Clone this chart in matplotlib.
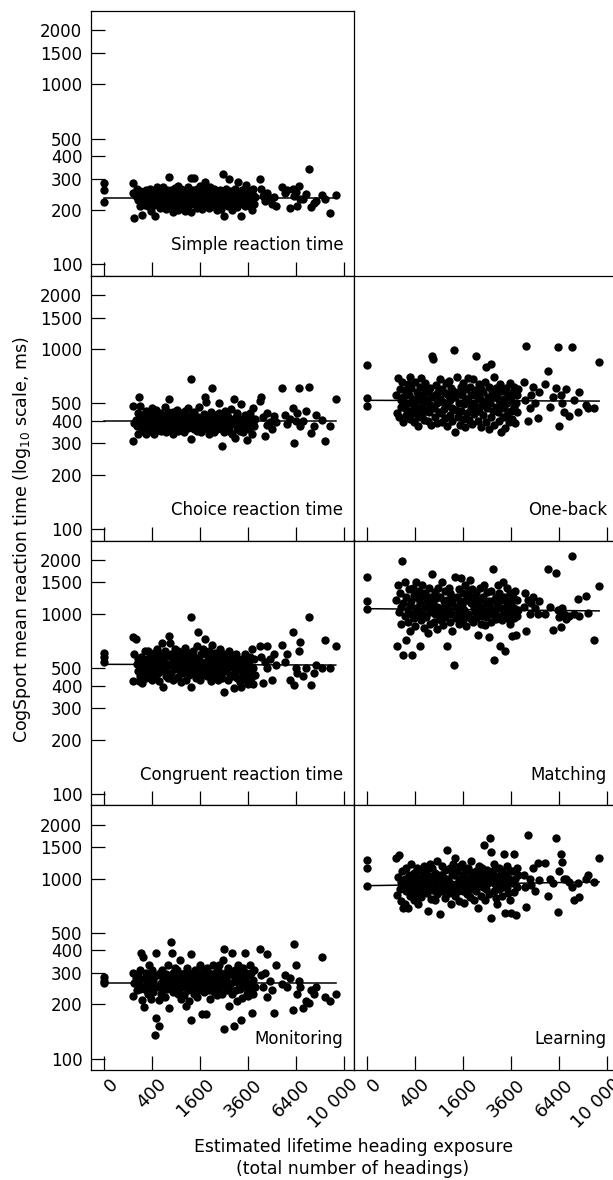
import numpy as np
import matplotlib
matplotlib.use("Agg")
import matplotlib.pyplot as plt
import matplotlib.transforms as mtransforms

# Estimated lifetime heading exposure (number of headings), shared by all panels
exposure = [
    0, 0, 0,
    144, 150, 160, 175, 185, 196, 200, 210, 220, 225,
    240, 250, 256, 265, 280, 290, 300, 310, 320, 330,
    335, 345, 360, 370, 385, 395, 405, 415, 425, 440,
    450, 465, 478, 490, 505, 520, 530, 545, 560, 575,
    585, 600, 615, 630, 645, 660, 675, 690, 705, 720,
    735, 750, 770, 785, 800, 820, 835, 850, 870, 890,
    905, 925, 940, 960, 980, 1000, 1020, 1040, 1060, 1080,
    1095, 1115, 1135, 1155, 1175, 1195, 1215, 1240, 1260, 1285,
    1305, 1330, 1350, 1375, 1400, 1420, 1445, 1465, 1490, 1510,
    1530, 1555, 1580, 1605, 1630, 1655, 1680, 1705, 1730, 1755,
    1775, 1800, 1830, 1855, 1880, 1910, 1935, 1960, 1990, 2015,
    2035, 2065, 2090, 2120, 2150, 2175, 2205, 2235, 2260, 2290,
    2315, 2345, 2375, 2405, 2435, 2465, 2495, 2525, 2555, 2590,
    2610, 2645, 2675, 2710, 2740, 2770, 2805, 2840, 2870, 2900,
    2930, 2965, 3000, 3030, 3065, 3100, 3135, 3170, 3205, 3240,
    3260, 3295, 3330, 3370, 3405, 3440, 3480, 3515, 3550, 3590,
    3610, 3650, 3690, 3730, 3765, 3805, 3845, 3885, 3920, 3960,
    4250, 4300, 4400, 4500, 4600, 4650, 4800, 4900, 5050, 5150,
    5500, 5700, 5800, 6000, 6200, 6300, 6400, 6500, 6600, 6700,
    6900, 7100, 7300, 7450, 7700, 7800, 8300, 8500, 8900, 9350,
]

# Mean reaction times (ms) per task, same order as exposure
simple_rt = [
    282, 258, 222,
    283, 250, 181, 240, 262, 228, 245, 236, 255, 210,
    226, 240, 188, 250, 232, 215, 244, 258, 224, 236,
    212, 248, 230, 262, 198, 236, 220, 252, 242, 214,
    186, 228, 256, 270, 238, 218, 246, 205, 232, 262,
    240, 212, 268, 224, 250, 204, 236, 258, 220, 244,
    306, 230, 214, 260, 248, 196, 238, 222, 266, 208,
    252, 228, 200, 274, 236, 216, 244, 262, 226, 210,
    238, 256, 198, 222, 248, 232, 270, 212, 246, 228,
    303, 196, 240, 258, 218, 303, 234, 250, 206, 264,
    226, 244, 212, 272, 236, 202, 254, 230, 218, 266,
    287, 240, 214, 256, 228, 248, 206, 270, 232, 220,
    250, 210, 238, 262, 224, 244, 200, 256, 230, 216,
    236, 258, 204, 246, 226, 316, 186, 240, 218, 262,
    228, 250, 210, 240, 297, 222, 256, 200, 234, 246,
    214, 244, 264, 226, 238, 208, 287, 250, 222, 232,
    186, 240, 258, 216, 230, 248, 210, 278, 236, 220,
    246, 226, 212, 256, 234, 200, 242, 262, 218, 238,
    300, 262, 240, 226, 250, 244, 232, 216, 236, 212,
    270, 248, 258, 205, 264, 240, 252, 212, 272, 232,
    230, 245, 337, 208, 220, 226, 243, 230, 194, 243,
]

choice_rt = [
    np.nan, np.nan, np.nan,
    483, 309, 390, 405, 375, 440, 336, 544, 483, 420,
    392, 360, 430, 350, 410, 378, 455, 340, 398, 420,
    368, 445, 385, 410, 352, 470, 395, 372, 428, 339,
    405, 380, 460, 355, 390, 418, 372, 440, 350, 398,
    430, 365, 402, 385, 475, 348, 412, 392, 445, 375,
    532, 395, 360, 420, 385, 450, 340, 408, 372, 430,
    388, 462, 352, 410, 395, 370, 440, 382, 418, 355,
    400, 345, 456, 378, 420, 390, 365, 470, 402, 380,
    685, 317, 430, 396, 360, 448, 375, 410, 352, 392,
    420, 370, 475, 388, 345, 410, 398, 366, 438, 380,
    544, 506, 360, 425, 392, 336, 412, 376, 450, 400,
    611, 372, 405, 348, 430, 388, 415, 360, 395, 440,
    500, 380, 410, 289, 362, 425, 395, 345, 455, 388,
    370, 432, 398, 352, 415, 380, 468, 402, 340, 390,
    532, 322, 386, 420, 360, 444, 378, 405, 350, 395,
    494, 375, 410, 346, 388, 430, 364, 398, 313, 420,
    402, 360, 440, 382, 415, 336, 395, 470, 372, 408,
    515, 544, 418, 330, 378, 440, 395, 360, 425, 392,
    611, 430, 385, 410, 472, 303, 398, 440, 611, 372,
    400, 455, 617, 342, 375, 432, 406, 309, 373, 532,
]

oneback_rt = [
    813, 537, 484,
    560, 440, 690, 420, 600, 480, 520, 660, 395, 545,
    470, 590, 505, 430, 640, 455, 560, 410, 700, 500,
    610, 440, 530, 395, 480, 660, 515, 450, 580, 420,
    375, 540, 620, 470, 690, 430, 560, 500, 405, 590,
    650, 460, 520, 400, 575, 445, 610, 490, 380, 540,
    919, 881, 470, 560, 420, 635, 505, 390, 580, 450,
    530, 680, 440, 600, 395, 510, 465, 570, 415, 645,
    490, 375, 555, 670, 430, 520, 610, 400, 470, 585,
    991, 348, 540, 460, 700, 420, 580, 500, 380, 620,
    455, 560, 410, 650, 495, 370, 600, 530, 440, 690,
    515, 405, 620, 470, 560, 385, 680, 500, 435, 590,
    919, 480, 550, 400, 640, 455, 530, 370, 600, 490,
    430, 575, 510, 660, 395, 796, 470, 545, 360, 620,
    505, 420, 830, 585, 455, 700, 380, 540, 475, 610,
    560, 445, 520, 400, 640, 348, 490, 585, 420, 530,
    470, 363, 610, 505, 430, 560, 395, 520, 650, 455,
    540, 410, 580, 480, 620, 390, 500, 560, 445, 600,
    660, 520, 1043, 400, 470, 560, 620, 505, 417, 580,
    640, 753, 480, 540, 610, 1025, 375, 560, 500, 450,
    600, 425, 1025, 520, 447, 580, 490, 473, 470, 848,
]

congruent_rt = [
    608, 575, 540,
    740, 422, 600, 725, 530, 480, 560, 422, 505, 450,
    580, 412, 500, 545, 470, 620, 525, 440, 560, 495,
    620, 465, 540, 505, 590, 430, 520, 560, 480, 610,
    450, 575, 510, 640, 470, 530, 425, 600, 495, 545,
    690, 395, 560, 480, 620, 510, 455, 585, 530, 440,
    750, 690, 470, 600, 520, 430, 560, 495, 640, 545,
    505, 580, 445, 620, 490, 540, 420, 600, 470, 530,
    560, 480, 650, 515, 430, 590, 500, 545, 460, 610,
    959, 395, 540, 620, 470, 580, 505, 440, 660, 525,
    798, 480, 560, 430, 600, 515, 460, 640, 530, 495,
    725, 540, 450, 590, 505, 620, 470, 560, 425, 530,
    675, 500, 580, 455, 610, 520, 480, 545, 430, 590,
    510, 640, 470, 560, 440, 530, 600, 370, 495, 545,
    480, 560, 430, 520, 620, 460, 505, 580, 450, 540,
    389, 530, 470, 600, 510, 440, 560, 490, 420, 545,
    395, 500, 560, 450, 520, 480, 600, 430, 540, 470,
    408, 520, 470, 580, 440, 640, 500, 410, 560, 460,
    660, 580, 412, 540, 660, 500, 560, 430, 600, 520,
    670, 540, 600, 430, 798, 405, 500, 470, 620, 697,
    450, 500, 959, 405, 470, 520, 500, 720, 500, 665,
]

matching_rt = [
    1603, 1187, 1060,
    1200, 661, 1450, 1020, 1300, 880, 1100, 1976, 595, 1150,
    980, 1500, 720, 1250, 1050, 900, 1380, 800, 1120, 1000,
    1180, 595, 1400, 950, 1280, 860, 1080, 1500, 990, 1220,
    1050, 1350, 665, 1150, 920, 1450, 1000, 1260, 840, 1100,
    1300, 960, 1200, 780, 1120, 1400, 1030, 880, 1250, 1060,
    1660, 1150, 900, 1320, 1000, 1220, 820, 1100, 1400, 970,
    1080, 1250, 930, 1500, 1020, 870, 1180, 1350, 960, 1120,
    1200, 661, 1050, 1400, 900, 1300, 1000, 1150, 800, 1250,
    521, 1100, 1600, 950, 1250, 1040, 1380, 880, 1180, 1000,
    1590, 1120, 920, 1300, 1050, 1450, 860, 1200, 980, 1350,
    1000, 1250, 1550, 940, 1150, 1380, 900, 1080, 1250, 1020,
    1300, 950, 1150, 760, 1200, 1050, 1400, 880, 1100, 980,
    1250, 1050, 1450, 870, 1150, 960, 1320, 1000, 740, 1180,
    1100, 900, 1350, 1000, 1788, 1200, 555, 1050, 940, 1250,
    1150, 1450, 980, 1300, 661, 1080, 1200, 920, 1500, 1030,
    1250, 621, 1100, 1400, 950, 1180, 1050, 880, 1300, 1000,
    1150, 750, 1250, 950, 1080, 1350, 760, 1200, 980, 1050,
    1100, 1300, 800, 1200, 1000, 1150, 1250, 1080, 1000, 1180,
    1000, 1788, 1100, 815, 1693, 1050, 960, 850, 1080, 1000,
    940, 980, 2087, 1000, 1210, 970, 1265, 1010, 713, 1432,
]

monitoring_rt = [
    283, 270, 262,
    300, 222, 265, 280, 240, 290, 255, 270, 245, 310,
    389, 213, 250, 365, 193, 280, 240, 300, 260, 230,
    270, 330, 245, 290, 215, 260, 310, 235, 275, 250,
    136, 389, 168, 290, 250, 213, 152, 300, 265, 230,
    310, 240, 280, 255, 220, 295, 265, 245, 330, 270,
    192, 285, 446, 250, 389, 300, 235, 270, 320, 255,
    260, 310, 230, 280, 245, 355, 270, 215, 295, 250,
    280, 225, 300, 260, 196, 320, 240, 275, 210, 290,
    163, 380, 255, 300, 230, 270, 310, 245, 285, 220,
    265, 300, 240, 330, 250, 280, 178, 260, 310, 235,
    290, 178, 255, 320, 270, 240, 300, 215, 285, 250,
    260, 330, 235, 280, 300, 245, 270, 225, 310, 255,
    330, 250, 290, 228, 270, 355, 406, 147, 300, 260,
    280, 240, 320, 250, 196, 300, 265, 385, 230, 290,
    152, 270, 310, 240, 290, 210, 330, 260, 300, 245,
    164, 280, 216, 320, 250, 385, 270, 300, 230, 290,
    222, 260, 330, 245, 300, 179, 275, 230, 310, 250,
    406, 290, 250, 300, 220, 381, 270, 240, 180, 330,
    260, 290, 250, 280, 186, 433, 330, 230, 270, 250,
    192, 210, 205, 240, 230, 250, 366, 220, 210, 230,
]

learning_rt = [
    1266, 1149, 916,
    1300, 815, 1020, 1350, 880, 960, 750, 1100, 690, 920,
    1000, 720, 1150, 860, 940, 687, 1050, 800, 980, 900,
    1200, 850, 960, 760, 1080, 900, 1020, 830, 1150, 940,
    720, 1000, 880, 1120, 790, 950, 1060, 860, 1180, 910,
    980, 1100, 830, 960, 660, 1040, 890, 1200, 770, 1000,
    1150, 870, 1000, 760, 1080, 930, 1250, 820, 990, 900,
    1050, 637, 960, 1180, 850, 1020, 900, 1120, 780, 980,
    900, 1436, 1000, 830, 1150, 950, 720, 1080, 870, 1200,
    1050, 800, 1300, 940, 1100, 860, 1000, 750, 1180, 920,
    980, 1200, 850, 1050, 730, 1120, 900, 1000, 820, 1150,
    950, 1100, 790, 1020, 1250, 880, 990, 760, 1080, 920,
    1100, 860, 1000, 690, 1180, 930, 1050, 800, 970, 1150,
    900, 1050, 1549, 760, 1000, 880, 1120, 950, 820, 1040,
    1679, 1416, 606, 990, 1100, 850, 1200, 930, 780, 1020,
    720, 1000, 1150, 880, 1050, 960, 800, 1100, 900, 1000,
    1370, 645, 1050, 900, 1180, 830, 1000, 1100, 760, 960,
    645, 1100, 950, 1370, 840, 1000, 632, 1150, 900, 1050,
    1050, 900, 700, 1750, 1000, 920, 1150, 860, 1220, 980,
    1220, 805, 1000, 950, 1679, 651, 1100, 1377, 1240, 1000,
    1000, 960, 900, 764, 950, 787, 1000, 1050, 960, 1303,
]

panel_names = ["Simple reaction time", "Choice reaction time", "One-back",
               "Congruent reaction time", "Matching", "Monitoring", "Learning"]
panel_data = [simple_rt, choice_rt, oneback_rt, congruent_rt,
              matching_rt, monitoring_rt, learning_rt]
panel_cells = [(0, 0), (1, 0), (1, 1), (2, 0), (2, 1), (3, 0), (3, 1)]

# Fitted line (ms) at lowest and highest exposure
fit_start = [233, 400, 520, 525, 1070, 262, 915]
fit_end = [233, 400, 515, 520, 1040, 262, 960]

y_ticks = [100, 200, 300, 400, 500, 1000, 1500, 2000]
x_ticks = [0, 400, 1600, 3600, 6400, 10000]
x_tick_labels = ["0", "400", "1600", "3600", "6400", "10 000"]


def fwd(x):
    x = np.asarray(x, dtype=float)
    return np.sign(x) * np.sqrt(np.abs(x))


def inv(s):
    s = np.asarray(s, dtype=float)
    return np.sign(s) * s ** 2


plt.rcParams["font.family"] = ["DejaVu Sans"]
plt.rcParams["axes.linewidth"] = 0.9

W, H = 613, 1180
fig = plt.figure(figsize=(W / 100, H / 100), dpi=100)

left0 = 90.6
col_w = 263.4
top0 = 11.0
row_h = 264.75

x = np.array(exposure, dtype=float)
label_shift = mtransforms.ScaledTranslation(5 / 100, 0, fig.dpi_scale_trans)

for name, vals, (r, c), y0, y1 in zip(panel_names, panel_data, panel_cells,
                                      fit_start, fit_end):
    px_left = left0 + c * col_w
    px_bottom = top0 + (r + 1) * row_h
    ax = fig.add_axes([px_left / W, 1 - px_bottom / H, col_w / W, row_h / H])

    ax.set_xscale("function", functions=(fwd, inv))
    ax.set_yscale("log")
    ax.set_xlim(-31.4, 10880)
    ax.set_ylim(86.5, 2560)

    ax.scatter(x, vals, s=36, color="black", linewidths=0, zorder=3)
    ax.plot([x.min(), x.max()], [y0, y1], color="black", lw=1.1, zorder=2)

    ax.set_xticks(x_ticks)
    ax.minorticks_off()
    ax.tick_params(axis="x", which="both", direction="in", length=10,
                   width=0.9, top=False, pad=4)
    if r == 3:
        ax.set_xticklabels(x_tick_labels, rotation=45, ha="right",
                           va="top", rotation_mode="anchor", fontsize=13)
        for lbl in ax.get_xticklabels():
            lbl.set_transform(lbl.get_transform() + label_shift)
    else:
        ax.set_xticklabels([])

    if c == 0:
        ax.set_yticks(y_ticks)
        ax.set_yticklabels([str(v) for v in y_ticks], fontsize=12)
        ax.tick_params(axis="y", which="major", direction="in", length=10,
                       width=0.9, pad=6)
    else:
        ax.set_yticks([])
    ax.tick_params(axis="y", which="minor", left=False, right=False)

    ax.text(0.96, 0.097, name, transform=ax.transAxes, ha="right",
            va="baseline", fontsize=12)

fig.text(22 / W, 1 - 540 / H,
         "CogSport mean reaction time (log$_{10}$ scale, ms)",
         rotation=90, ha="center", va="center", fontsize=12.5)
fig.text(353 / W, 1 - 1158 / H,
         "Estimated lifetime heading exposure\n(total number of headings)",
         ha="center", va="center", fontsize=12.4, linespacing=1.35)

fig.savefig("out.png", dpi=100)
